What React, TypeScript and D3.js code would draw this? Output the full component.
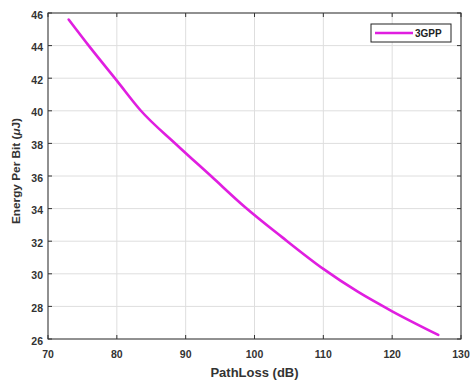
import React from "react";
import * as d3 from "d3";

const pathLoss = [73, 76, 80, 83.4, 88.6, 93.8, 98.6, 104, 110, 115, 120, 126.7];
const energy = [45.6, 43.95, 41.85, 40.05, 37.95, 35.95, 34.1, 32.25, 30.3, 28.9, 27.7, 26.25];
const xTicks = [70, 80, 90, 100, 110, 120, 130];
const yTicks = [26, 28, 30, 32, 34, 36, 38, 40, 42, 44, 46];
const seriesName = "3GPP";

export default function App() {
  const W = 471, H = 380;
  const L = 48, R = 461, T = 13, B = 339;
  const x = d3.scaleLinear().domain([70, 130]).range([L, R]);
  const y = d3.scaleLinear().domain([26, 46]).range([B, T]);
  const pts = pathLoss.map((v, i) => [v, energy[i]] as [number, number]);
  const line = d3.line<[number, number]>().x(d => x(d[0])).y(d => y(d[1])).curve(d3.curveMonotoneX);
  const axisColor = "#333333";
  const font = "'Liberation Sans', Arial, sans-serif";
  const lineColor = "#e01ee0";
  return (
    <svg width={W} height={H} style={{ position: "absolute", left: 0, top: 0, background: "#fff" }} fontFamily={font}>
      <rect x={0} y={0} width={W} height={H} fill="#fff" />
      {xTicks.map(t => (
        <line key={"gx" + t} x1={x(t)} x2={x(t)} y1={T} y2={B} stroke="#dedede" strokeWidth={1} />
      ))}
      {yTicks.map(t => (
        <line key={"gy" + t} x1={L} x2={R} y1={y(t)} y2={y(t)} stroke="#dedede" strokeWidth={1} />
      ))}
      <path d={line(pts) || ""} fill="none" stroke={lineColor} strokeWidth={2.6} strokeLinecap="round" />
      <rect x={L} y={T} width={R - L} height={B - T} fill="none" stroke={axisColor} strokeWidth={1} />
      {xTicks.map(t => (
        <g key={"tx" + t}>
          <line x1={x(t)} x2={x(t)} y1={B} y2={B - 4} stroke={axisColor} />
          <line x1={x(t)} x2={x(t)} y1={T} y2={T + 4} stroke={axisColor} />
          <text x={x(t)} y={358} textAnchor="middle" fontSize={10.5} fontWeight="bold" fill="#333">{t}</text>
        </g>
      ))}
      {yTicks.map(t => (
        <g key={"ty" + t}>
          <line x1={L} x2={L + 4} y1={y(t)} y2={y(t)} stroke={axisColor} />
          <line x1={R} x2={R - 4} y1={y(t)} y2={y(t)} stroke={axisColor} />
          <text x={43} y={y(t) + 5.5} textAnchor="end" fontSize={10.5} fontWeight="bold" fill="#333">{t}</text>
        </g>
      ))}
      <text x={(L + R) / 2} y={377} textAnchor="middle" fontSize={13} fontWeight="bold" fill="#333">PathLoss (dB)</text>
      <text transform={`translate(20,171) rotate(-90)`} textAnchor="middle" fontSize={11.8} fontWeight="bold" fill="#333">
        Energy Per Bit (<tspan fontStyle="italic">μ</tspan>J)
      </text>
      <g>
        <rect x={371} y={24} width={80} height={18} fill="#fff" stroke="#222" strokeWidth={1} />
        <line x1={375} x2={413} y1={33} y2={33} stroke={lineColor} strokeWidth={2.6} />
        <text x={415} y={37} fontSize={10} fontWeight="bold" fill="#222">{seriesName}</text>
      </g>
    </svg>
  );
}
